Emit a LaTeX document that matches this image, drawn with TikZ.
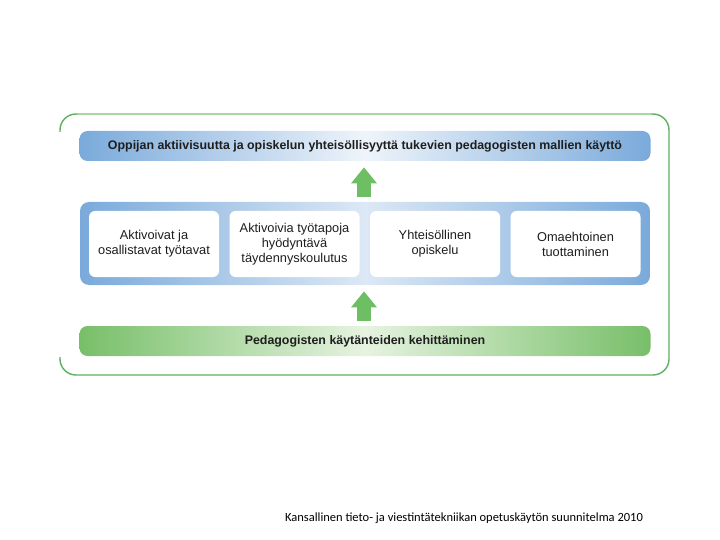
\documentclass[tikz,border=0pt]{standalone}
\usepackage{fontspec}
\setmainfont{Liberation Sans}
\newfontfamily\footfont{Carlito}
\usetikzlibrary{arrows.meta}

\definecolor{barblue}{HTML}{7AAADB}
\definecolor{palebar}{HTML}{EEF4FA}
\definecolor{bandmid}{HTML}{DCE8F5}
\definecolor{bargreen}{HTML}{78BF69}
\definecolor{palegreen}{HTML}{E6F3E0}
\definecolor{framegreen}{HTML}{5DAF5F}
\definecolor{framelight}{HTML}{A8D8A2}
\definecolor{arrowgreen}{HTML}{6EBE63}
\definecolor{inktext}{HTML}{1E1E1E}

\begin{document}
\begin{tikzpicture}[x=1pt, y=-1pt, thick]
    \tikzset{
        bar/.style={rounded corners=8pt, minimum width=571pt, minimum height=30pt,
            inner sep=0pt, text=inktext, font=\bfseries\fontsize{12.4}{14}\selectfont},
        bluebar/.style={bar, left color=barblue, right color=barblue, middle color=palebar},
        greenbar/.style={bar, left color=bargreen, right color=bargreen, middle color=palegreen},
        band/.style={rounded corners=9pt, minimum width=570pt, minimum height=83pt,
            left color=barblue, right color=barblue, middle color=bandmid},
        card/.style={rounded corners=6pt, fill=white, minimum width=130pt, minimum height=66pt,
            inner sep=1pt, align=center, text=inktext, font=\fontsize{12.8}{15}\selectfont},
        uparrow/.style={arrowgreen, line width=14pt, shorten <=5pt, shorten >=6pt,
            -{Triangle[width=26pt, length=16pt, line width=0pt]}}
    }
    \useasboundingbox (0,0) rectangle (720,540);

    \draw[framegreen, line width=1.4pt, rounded corners=16pt]
        (60,132) -- (60,114) -- (669,114) -- (669,375) -- (60,375) -- (60,357);
    \draw[framelight, line width=1.4pt] (78,114) -- (651,114);

    \node[bluebar] (goal) at (365,146)
        {Oppijan aktiivisuutta ja opiskelun yhteisöllisyyttä tukevien pedagogisten mallien käyttö};
    \node[band] (band) at (365,243.5) {};
    \foreach \i/\txt in {1/{Aktivoivat ja\\osallistavat työtavat},
                         2/{Aktivoivia työtapoja\\hyödyntävä\\täydennyskoulutus},
                         3/{Yhteisöllinen\\opiskelu},
                         4/{Omaehtoinen\\tuottaminen}}
        \node[card] (card\i) at ({154+140.5*(\i-1)},244) {\txt};
    \node[greenbar] (base) at (365,341) {Pedagogisten käytänteiden kehittäminen};

    \draw[uparrow] ([xshift=-1pt]band.north) -- ([xshift=-1pt]goal.south);
    \draw[uparrow] ([xshift=-1pt]base.north) -- ([xshift=-1pt]band.south);

    \node[font=\footfont\fontsize{12.5}{14}\selectfont, text=black] (caption) at (464,518)
        {Kansallinen tieto- ja viestintätekniikan opetuskäytön suunnitelma 2010};
\end{tikzpicture}
\end{document}
